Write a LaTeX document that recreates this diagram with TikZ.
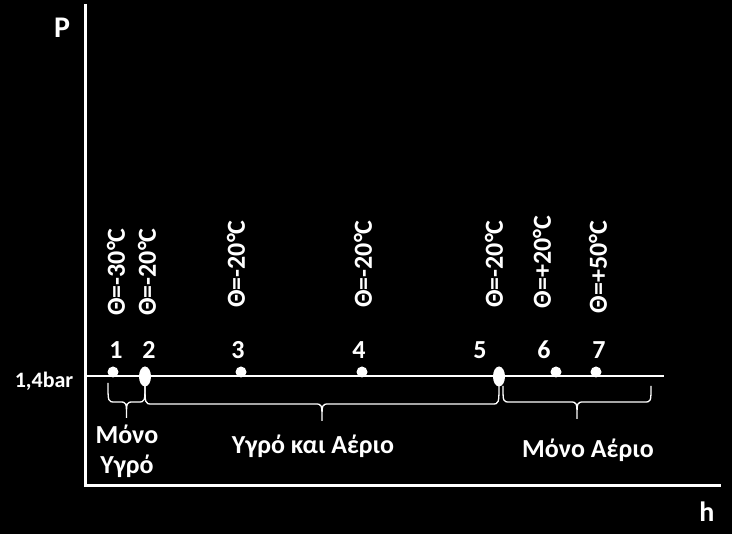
\documentclass[tikz,border=0pt]{standalone}
\usepackage{fontspec}
\usetikzlibrary{shapes.geometric}
\setmainfont{Carlito}
\newcommand{\mybrace}[5]{% x1, x2, ytop, ymid, ytip
  \pgfmathsetmacro{\xc}{(#1+#2)/2}
  \draw[bracepath] (#1,#3) .. controls (#1,#4) .. (#1+7,#4) -- (\xc-7,#4)
    .. controls (\xc,#4) .. (\xc,#5)
    .. controls (\xc,#4) .. (\xc+7,#4) -- (#2-7,#4)
    .. controls (#2,#4) .. (#2,#3);}
\begin{document}
\begin{tikzpicture}[x=1pt,y=-1pt,
  axis/.style={draw=white,line width=3pt},
  level/.style={draw=white,line width=2.4pt},
  bracepath/.style={draw=white,line width=1.3pt},
  dotpt/.style={circle,fill=white,inner sep=0pt,minimum size=11pt},
  ovalpt/.style={ellipse,fill=white,inner sep=0pt,minimum width=12pt,minimum height=20pt},
  txt/.style={text=white,font=\bfseries\fontsize{26}{28}\selectfont,inner sep=0pt},
  temp/.style={txt,rotate=90,anchor=center},
  num/.style={txt,anchor=center}]
\useasboundingbox[fill=black] (0,0) rectangle (732,534);
% axes
\coordinate (otop) at (85,4);
\coordinate (orig) at (85,486);
\coordinate (hend) at (721,486);
\draw[axis] (otop) -- (orig) -- (hend);
\node[txt,font=\bfseries\fontsize{30}{32}\selectfont] (P) at (62,28) {P};
\node[txt,font=\bfseries\fontsize{28}{30}\selectfont] (h) at (707,512) {h};
% level line
\coordinate (lstart) at (85,376);
\coordinate (lend) at (664,376);
\draw[level] (lstart) -- (lend);
\node[txt,font=\bfseries\fontsize{22}{24}\selectfont] (bar) at (44,381) {1,4bar};
% points
\node[dotpt] (p1) at (113,372) {};
\node[ovalpt] (p2) at (145,376.5) {};
\node[dotpt] (p3) at (241,372) {};
\node[dotpt] (p4) at (362,372) {};
\node[ovalpt] (p5) at (499,376.5) {};
\node[dotpt] (p6) at (556,372) {};
\node[dotpt] (p7) at (596,372) {};
% numbers
\node[num] (n1) at (116,350) {1};
\node[num] (n2) at (149,350) {2};
\node[num] (n3) at (238,350) {3};
\node[num] (n4) at (359,350) {4};
\node[num] (n5) at (480,350) {5};
\node[num] (n6) at (544,350) {6};
\node[num] (n7) at (599,350) {7};
% temperatures
\node[temp] (t1) at (116,272) {Θ=-30°C};
\node[temp] (t2) at (147,272) {Θ=-20°C};
\node[temp] (t3) at (236,264) {Θ=-20°C};
\node[temp] (t4) at (363,264) {Θ=-20°C};
\node[temp] (t5) at (494,264) {Θ=-20°C};
\node[temp] (t6) at (542,262) {Θ=+20°C};
\node[temp] (t7) at (598,267) {Θ=+50°C};
% braces
\mybrace{108}{145}{383}{402}{418}
\mybrace{145}{499}{383}{404}{421}
\mybrace{503}{651}{386}{402}{419}
% region labels
\node[txt,align=center] (r1) at (127,451) {Μόνο\\[2pt]Υγρό};
\node[txt] (r2) at (313,446) {Υγρό και Αέριο};
\node[txt] (r3) at (588,450) {Μόνο Αέριο};
\end{tikzpicture}
\end{document}
